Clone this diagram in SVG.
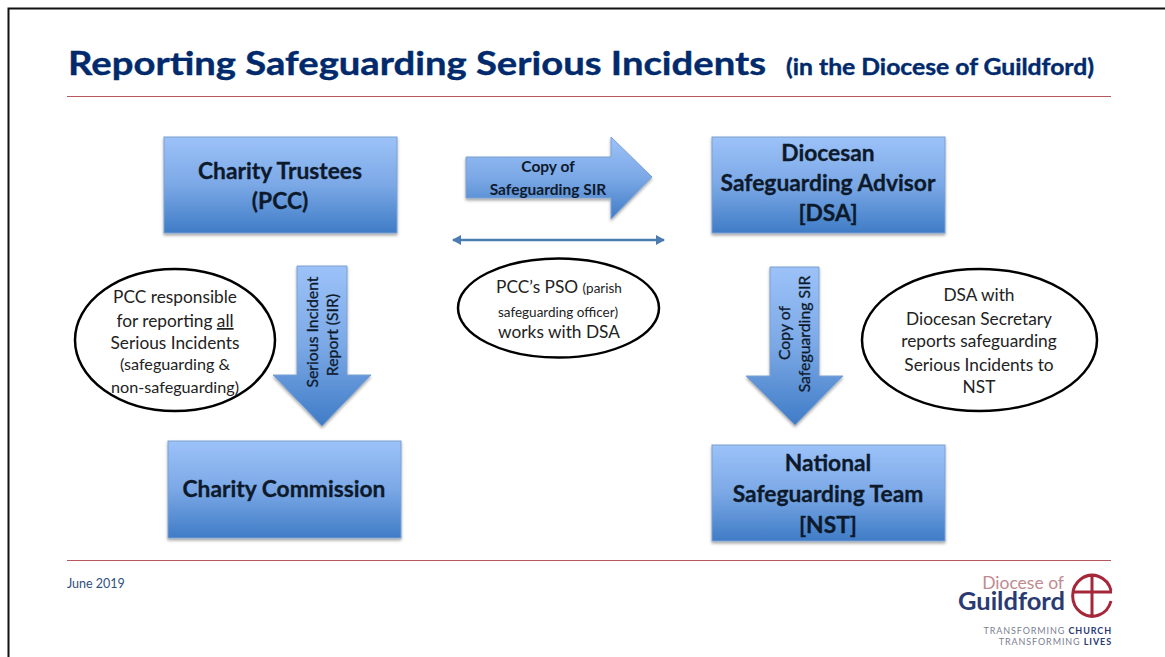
<svg xmlns="http://www.w3.org/2000/svg" width="1165" height="657" viewBox="0 0 1165 657">
<style>
text{font-family:"Lato","Liberation Sans",sans-serif;fill:#111;text-anchor:middle}
.n{font-weight:700;font-size:22.800px;fill:#0d1a2c;stroke:#0d1a2c;stroke-width:.3px}
.a{font-weight:700;font-size:15.500px;fill:#0d1a2c}
.v{font-weight:400;font-size:15.800px;fill:#0d1a2c;stroke:#0d1a2c;stroke-width:.3px}
.e{font-size:17.300px;fill:#222}
.s{font-size:16.200px}
.t{font-size:13.500px}
.box{fill:url(#g);stroke:#7aa0d0;stroke-width:1;filter:url(#s)}
.ell{fill:#fff;stroke:#000;stroke-width:2.500}
.rule{stroke:#b5575f;stroke-width:1}
.h{text-anchor:start;font-weight:700;fill:#002a6c;stroke:#002a6c;stroke-width:.4px}
.tr{text-anchor:end;font-size:9px;fill:#7a8090;letter-spacing:.9px}
.trb{font-weight:700;fill:#2a3a72}
</style>
<defs>
<linearGradient id="g" x1="0" y1="0" x2="0" y2="1"><stop offset="0" stop-color="#9cc2f8"/><stop offset="0.5" stop-color="#7ba8e6"/><stop offset="1" stop-color="#3f7cc6"/></linearGradient>
<filter id="s" x="-10%" y="-10%" width="120%" height="125%"><feDropShadow dx="0" dy="2" stdDeviation="1.600" flood-color="#000" flood-opacity="0.35"/></filter>
<marker id="m" viewBox="0 0 9 10" refX="8" refY="5" markerWidth="9" markerHeight="10" markerUnits="userSpaceOnUse" orient="auto-start-reverse"><path d="M0 0L9 5L0 10Z" fill="#4a7cb0"/></marker>
</defs>
<rect width="1165" height="657" fill="#fff"/>
<path d="M1165 8.500H8.500V657" fill="none" stroke="#111" stroke-width="2"/>
<g id="title">
<text class="h" x="68" y="75" style="font-size:33px" textLength="698" lengthAdjust="spacingAndGlyphs">Reporting Safeguarding Serious Incidents</text>
<text class="h" x="786" y="75" style="font-size:22px" textLength="308" lengthAdjust="spacingAndGlyphs">(in the Diocese of Guildford)</text>
<line class="rule" x1="67" y1="96.500" x2="1111" y2="96.500"/>
</g>
<g id="connectors">
<path class="box" d="M466 157H611V137L652 177L611 219V198H466Z"/>
<path class="box" d="M297 266H347V375H371L322 426L273 375H297Z"/>
<path class="box" d="M770 267H819V376H843L795 425L746 376H770Z"/>
<line x1="453" y1="240" x2="664" y2="240" stroke="#4a7cb0" stroke-width="2.500" marker-start="url(#m)" marker-end="url(#m)"/>
<text class="a" x="548" y="172">Copy of</text>
<text class="a" x="548" y="195">Safeguarding SIR</text>
<text class="v" transform="translate(318 332) rotate(-90)">Serious Incident</text>
<text class="v" transform="translate(338 335) rotate(-90)">Report (SIR)</text>
<text class="v" transform="translate(790 333) rotate(-90)">Copy of</text>
<text class="v" transform="translate(810 334) rotate(-90)">Safeguarding SIR</text>
</g>
<g id="charity-trustees"><rect class="box" x="164" y="137" width="233" height="96"/>
<text class="n" x="280" y="179">Charity Trustees</text><text class="n" x="280" y="209">(PCC)</text></g>
<g id="dsa"><rect class="box" x="712" y="137" width="233" height="96"/>
<text class="n" x="828" y="161">Diocesan</text><text class="n" x="828" y="191">Safeguarding Advisor</text><text class="n" x="828" y="221">[DSA]</text></g>
<g id="charity-commission"><rect class="box" x="168" y="441" width="233" height="97"/>
<text class="n" x="284" y="497">Charity Commission</text></g>
<g id="nst"><rect class="box" x="712" y="445" width="233" height="96"/>
<text class="n" x="828" y="471">National</text><text class="n" x="828" y="502">Safeguarding Team</text><text class="n" x="828" y="533">[NST]</text></g>
<g id="note-pcc"><ellipse class="ell" cx="175" cy="340" rx="100" ry="71"/>
<text class="e" x="175" y="303">PCC responsible</text>
<text class="e" x="175" y="327">for reporting <tspan text-decoration="underline">all</tspan></text>
<text class="e" x="175" y="349">Serious Incidents</text>
<text class="e s" x="175" y="370">(safeguarding &amp;</text>
<text class="e s" x="175" y="393">non-safeguarding)</text></g>
<g id="note-pso"><ellipse class="ell" cx="558.500" cy="308" rx="100.500" ry="49.500"/>
<text class="e" x="559" y="293">PCC’s PSO <tspan class="t">(parish</tspan></text>
<text class="e t" x="558" y="317">safeguarding officer)</text>
<text class="e" x="559" y="338">works with DSA</text></g>
<g id="note-dsa"><ellipse class="ell" cx="979.500" cy="340" rx="117.500" ry="71"/>
<text class="e" x="979" y="301">DSA with</text>
<text class="e" x="979" y="325">Diocesan Secretary</text>
<text class="e" x="979" y="347">reports safeguarding</text>
<text class="e" x="979" y="371">Serious Incidents to</text>
<text class="e" x="979" y="393">NST</text></g>
<g id="footer">
<line class="rule" x1="67" y1="560.500" x2="1111" y2="560.500"/>
<text x="67" y="588" style="text-anchor:start;font-size:12.500px;fill:#2f5080">June 2019</text>
<text x="1064" y="589" style="text-anchor:end;font-size:17.500px;fill:#c08a90">Diocese of</text>
<text x="1065" y="610" style="text-anchor:end;font-weight:700;font-size:25.500px;fill:#2a3a72">Guildford</text>
<path d="M1111 590.500A19.500 20.500 0 1 0 1111 601M1072 592H1112M1092 575V616" fill="none" stroke="#a5283a" stroke-width="3"/>
<text class="tr" x="1112" y="634">TRANSFORMING <tspan class="trb">CHURCH</tspan></text>
<text class="tr" x="1112" y="645">TRANSFORMING <tspan class="trb">LIVES</tspan></text>
</g>
</svg>
